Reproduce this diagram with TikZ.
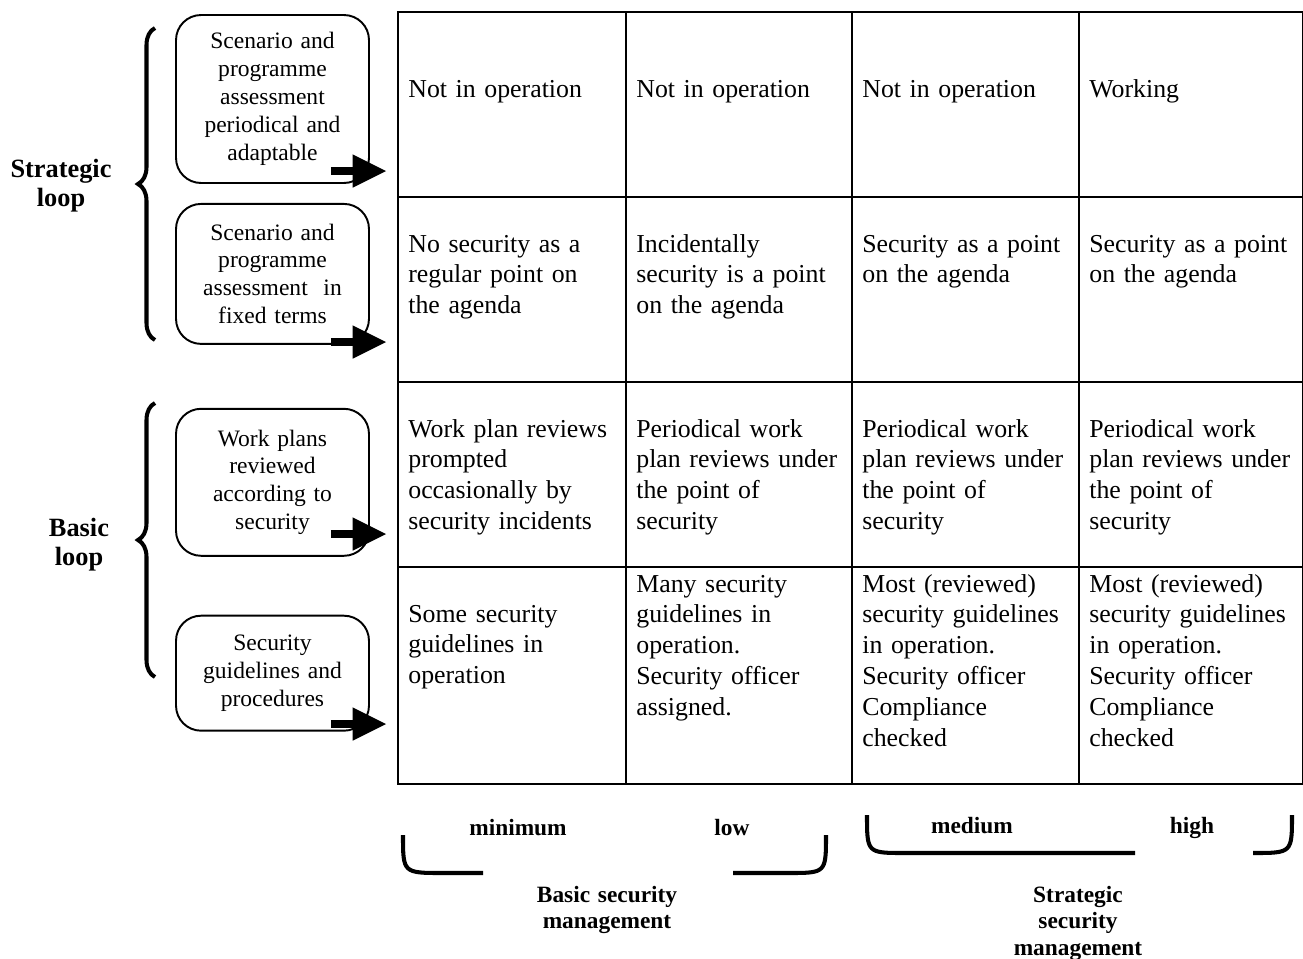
\documentclass[tikz,border=0pt]{standalone}
\usepackage{fontspec}
\setmainfont{Liberation Serif}
\usetikzlibrary{arrows.meta, positioning, decorations.pathreplacing, calc}

\begin{document}
\begin{tikzpicture}[
    x=0.02cm, y=-0.02cm,
    box/.style={rectangle, draw, line width=1.1pt, rounded corners=0.5cm, text width=3.4cm, align=center, minimum width=3.86cm, font=\fontsize{13.4}{15.9}\selectfont},
    cell/.style={anchor=base west, inner sep=0pt, text width=4.4cm, align=left, font=\fontsize{14.7}{17.6}\selectfont},
    grid/.style={line width=1.1pt},
    looplabel/.style={anchor=base, inner sep=0pt, text width=2.6cm, align=center, font=\bfseries\fontsize{15}{17}\selectfont},
    level/.style={anchor=base, inner sep=0pt, font=\bfseries\fontsize{13.3}{15.3}\selectfont},
    fatarrow/.style={line width=4.5pt, -{Triangle[length=19pt, width=19pt, line width=0pt]}},
    curly/.style={decorate, decoration={brace, amplitude=0.34cm}, line width=2.3pt},
    bracket/.style={line width=2.3pt}
]
    \useasboundingbox (0,0) rectangle (1303,958);

    % left side: loops and their steps
    \node[box, minimum height=3.36cm] (b1) at (272.5,99) {Scenario and\\ programme\\ assessment\\ periodical and\\ adaptable};
    \node[box, minimum height=2.8cm, below=0.38cm of b1] (b2) {Scenario and\\ programme\\ assessment~ in\\ fixed terms};
    \node[box, minimum height=2.94cm, below=1.26cm of b2] (b3) {Work plans\\ reviewed\\ according to\\ security};
    \node[box, minimum height=2.3cm, below=1.16cm of b3] (b4) {Security\\ guidelines and\\ procedures};

    \draw[curly] (155,340) -- (155,28);
    \draw[curly] (155,677) -- (155,403);
    \node[looplabel] (strat) at (61,177) {Strategic\\ loop};
    \node[looplabel] (basic) at (79,536) {Basic\\ loop};

    % the table
    \draw[grid] (398,12) rectangle (1303,784);
    \foreach \x in {626,852,1079}
        \draw[grid] (\x,12) -- (\x,784);
    \foreach \y in {197,382,567}
        \draw[grid] (398,\y) -- (1303,\y);

    \node[cell] (r1c1) at (408,97) {Not in operation};
    \node[cell] (r1c2) at (636,97) {Not in operation};
    \node[cell] (r1c3) at (862,97) {Not in operation};
    \node[cell] (r1c4) at (1089,97) {Working};

    \node[cell] (r2c1) at (408,252) {No security as a\\ regular point on\\ the agenda};
    \node[cell] (r2c2) at (636,252) {Incidentally\\ security is a point\\ on the agenda};
    \node[cell] (r2c3) at (862,252) {Security as a point\\ on the agenda};
    \node[cell] (r2c4) at (1089,252) {Security as a point\\ on the agenda};

    \node[cell] (r3c1) at (408,437) {Work plan reviews\\ prompted\\ occasionally by\\ security incidents};
    \node[cell] (r3c2) at (636,437) {Periodical work\\ plan reviews under\\ the point of\\ security};
    \node[cell] (r3c3) at (862,437) {Periodical work\\ plan reviews under\\ the point of\\ security};
    \node[cell] (r3c4) at (1089,437) {Periodical work\\ plan reviews under\\ the point of\\ security};

    \node[cell] (r4c1) at (408,622) {Some security\\ guidelines in\\ operation};
    \node[cell] (r4c2) at (636,592) {Many security\\ guidelines in\\ operation.\\ Security officer\\ assigned.};
    \node[cell] (r4c3) at (862,592) {Most (reviewed)\\ security guidelines\\ in operation.\\ Security officer\\ Compliance\\ checked};
    \node[cell] (r4c4) at (1089,592) {Most (reviewed)\\ security guidelines\\ in operation.\\ Security officer\\ Compliance\\ checked};

    % arrows into the rows
    \coordinate (e1) at (386,171);
    \coordinate (e2) at (386,342);
    \coordinate (e3) at (386,534);
    \coordinate (e4) at (386,724);
    \draw[fatarrow] ($(e1 -| b1.east)+(-39,0)$) -- (e1);
    \draw[fatarrow] ($(e2 -| b2.east)+(-39,0)$) -- (e2);
    \draw[fatarrow] ($(e3 -| b3.east)+(-39,0)$) -- (e3);
    \draw[fatarrow] ($(e4 -| b4.east)+(-39,0)$) -- (e4);

    % levels below the table
    \node[level] (min) at (518,835) {minimum};
    \node[level] (low) at (732,835) {low};
    \node[level] (med) at (972,833) {medium};
    \node[level] (high) at (1192,833) {high};
    \node[level, text width=4cm, align=center] (bsm) at (607,902) {Basic security\\ management};
    \node[level, text width=4cm, align=center] (ssm) at (1078,902) {Strategic\\ security\\ management};

    \draw[bracket] (403,835) .. controls (403,873) .. (443,873) -- (483,873);
    \draw[bracket] (733,873) -- (788,873) .. controls (826,873) .. (826,835);
    \draw[bracket] (867,815) .. controls (867,853) .. (905,853) -- (1135,853);
    \draw[bracket] (1253,853) .. controls (1292,853) .. (1292,815);
\end{tikzpicture}
\end{document}
